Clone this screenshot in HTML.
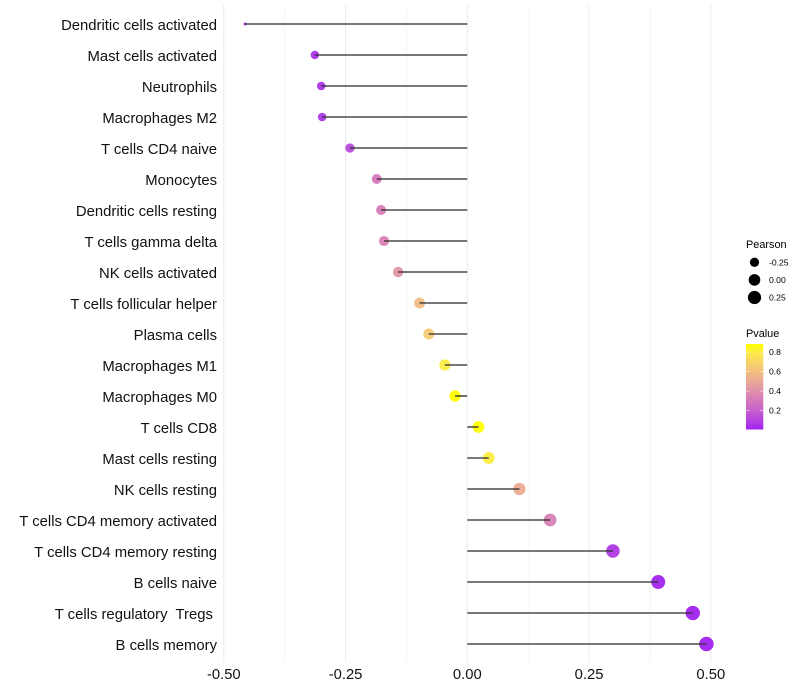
<!DOCTYPE html>
<html>
<head>
<meta charset="utf-8">
<style>
html,body{margin:0;padding:0;background:#fff;width:800px;height:700px;overflow:hidden}
svg{display:block}
text{font-family:"Liberation Sans",Arial,sans-serif}
</style>
</head>
<body>
<svg id="chart" xmlns="http://www.w3.org/2000/svg" width="800" height="700" viewBox="0 0 800 700">
  <defs>
    <linearGradient id="pvalue-gradient" x1="0" y1="1" x2="0" y2="0"></linearGradient>
  </defs>
  <g id="grid"></g>
  <g id="segments"></g>
  <g id="ylabels"></g>
  <g id="xlabels"></g>
  <g id="legend-size">
    <text x="746" y="248" font-size="10.9" fill="#000">Pearson</text>
  </g>
  <g id="legend-color">
    <text x="746" y="337" font-size="10.9" fill="#000">Pvalue</text>
  </g>
</svg>
<script>
const categories = ["Dendritic cells activated","Mast cells activated","Neutrophils","Macrophages M2","T cells CD4 naive","Monocytes","Dendritic cells resting","T cells gamma delta","NK cells activated","T cells follicular helper","Plasma cells","Macrophages M1","Macrophages M0","T cells CD8","Mast cells resting","NK cells resting","T cells CD4 memory activated","T cells CD4 memory resting","B cells naive","T cells regulatory  Tregs ","B cells memory"];
const pearson = [-0.456,-0.313,-0.300,-0.298,-0.241,-0.186,-0.177,-0.171,-0.142,-0.098,-0.079,-0.046,-0.025,0.023,0.044,0.107,0.170,0.299,0.392,0.463,0.491];
const pvalues = [0.01,0.05,0.06,0.065,0.13,0.30,0.32,0.34,0.42,0.58,0.65,0.80,0.88,0.88,0.80,0.52,0.33,0.07,0.02,0.015,0.012];
const xMajorTicks = [-0.5,-0.25,0,0.25,0.5];
const xMinorTicks = [-0.375,-0.125,0.125,0.375];
const sizeLegendValues = [-0.25,0,0.25];
const colorLegendValues = [0.8,0.6,0.4,0.2];

const NS = "http://www.w3.org/2000/svg";
const panelTop = 5, panelBottom = 662, rowStart = 24, rowStep = 31;
const xScale = v => 467.3 + v * 487;
const yScale = i => rowStart + i * rowStep;
const pMin = Math.min(...pvalues), pMax = Math.max(...pvalues);
const vMin = Math.min(...pearson), vMax = Math.max(...pearson);
const sizeScale = v => 3 + 11.5 * Math.pow((v - vMin) / (vMax - vMin), 0.4);

/* colour scale: purple -> yellow through Lab space */
function srgbToLab(rgb){
  const l = rgb.map(c => { c/=255; return c>0.04045?Math.pow((c+0.055)/1.055,2.4):c/12.92; });
  const x=(0.4124*l[0]+0.3576*l[1]+0.1805*l[2])/0.95047,y=0.2126*l[0]+0.7152*l[1]+0.0722*l[2],z=(0.0193*l[0]+0.1192*l[1]+0.9505*l[2])/1.08883;
  const f=t=>t>0.008856?Math.cbrt(t):7.787*t+16/116;
  return [116*f(y)-16,500*(f(x)-f(y)),200*(f(y)-f(z))];
}
function labToCss(lab){
  const fy=(lab[0]+16)/116,fx=fy+lab[1]/500,fz=fy-lab[2]/200;
  const g=t=>t*t*t>0.008856?t*t*t:(t-16/116)/7.787;
  const x=g(fx)*0.95047,y=g(fy),z=g(fz)*1.08883;
  const l=[3.2406*x-1.5372*y-0.4986*z,-0.9689*x+1.8758*y+0.0415*z,0.0557*x-0.2040*y+1.0570*z];
  const c=l.map(v=>{v=Math.max(0,Math.min(1,v));return Math.round(255*(v>0.0031308?1.055*Math.pow(v,1/2.4)-0.055:12.92*v));});
  return "rgb("+c.join(",")+")";
}
const labLow = srgbToLab([160,32,240]), labHigh = srgbToLab([255,255,0]);
const colorAt = t => labToCss(labLow.map((v,i)=>v+(labHigh[i]-v)*Math.max(0,Math.min(1,t))));
const colorScale = p => colorAt((p - pMin) / (pMax - pMin));

function make(tag, attrs, parent){
  const el = document.createElementNS(NS, tag);
  for (const k in attrs) el.setAttribute(k, attrs[k]);
  parent.appendChild(el);
  return el;
}

const grid = document.getElementById("grid");
xMinorTicks.forEach(v => {
  const l = make("line",{x1:xScale(v),x2:xScale(v),y1:panelTop,y2:panelBottom,stroke:"#f2f2f2","stroke-width":0.8},grid);
  
  
});
xMajorTicks.forEach(v => {
  const l = make("line",{x1:xScale(v),x2:xScale(v),y1:panelTop,y2:panelBottom,stroke:"#ebebeb","stroke-width":1},grid);
  
  
});

const segG = document.getElementById("segments");
categories.forEach((c,i) => {
  const dot = make("circle",{cx:xScale(pearson[i]),cy:yScale(i),r:sizeScale(pearson[i])/2,fill:colorScale(pvalues[i]),"fill-opacity":0.95},segG);
  
  
  const seg = make("line",{x1:xScale(0),x2:xScale(pearson[i]),y1:yScale(i),y2:yScale(i),stroke:"#333","stroke-width":1.6,"stroke-opacity":0.88},segG);
  
  
});

const yG = document.getElementById("ylabels");
categories.forEach((c,i) => {
  const t = make("text",{x:217,y:yScale(i)+6,"text-anchor":"end","font-size":14.85,fill:"#111"},yG);
  t.style.whiteSpace = "pre";
  t.textContent = c;
  
  
});

const xG = document.getElementById("xlabels");
xMajorTicks.forEach(v => {
  const t = make("text",{x:xScale(v),y:679,"text-anchor":"middle","font-size":14.78,fill:"#111"},xG);
  t.textContent = v.toFixed(2);
  
  
});

const sizeG = document.getElementById("legend-size");
sizeLegendValues.forEach((v,i) => {
  const cy = 262.3 + i * 17.6;
  const d = make("circle",{cx:754.5,cy:cy,r:sizeScale(v)/2,fill:"#000"},sizeG);
  
  
  const t = make("text",{x:769,y:cy+3,"font-size":8.6,fill:"#000"},sizeG);
  t.textContent = v.toFixed(2);
  
  
});

const grad = document.getElementById("pvalue-gradient");
[0,0.1,0.2,0.3,0.4,0.5,0.6,0.7,0.8,0.9,1].forEach(s => {
  make("stop",{offset:s,"stop-color":colorAt(s)},grad);
});
const colorG = document.getElementById("legend-color");
const barTop = 344, barBottom = 429.5, barLeft = 746, barRight = 763.3;
const barY = p => 410.6 - (p - 0.2) * 97.5;
const bar = make("rect",{x:barLeft,y:barTop,width:barRight-barLeft,height:barBottom-barTop,fill:"url(#pvalue-gradient)"},colorG);


colorLegendValues.forEach(p => {
  const y = barY(p);
  const a = make("line",{x1:barLeft,x2:barLeft+3.5,y1:y,y2:y,stroke:"#fff","stroke-width":0.5},colorG);
  
  
  const b = make("line",{x1:barRight-3.5,x2:barRight,y1:y,y2:y,stroke:"#fff","stroke-width":0.5},colorG);
  
  
  const t = make("text",{x:769,y:y+3,"font-size":8.6,fill:"#000"},colorG);
  t.textContent = p.toFixed(1);
  
  
});
</script>
</body>
</html>
